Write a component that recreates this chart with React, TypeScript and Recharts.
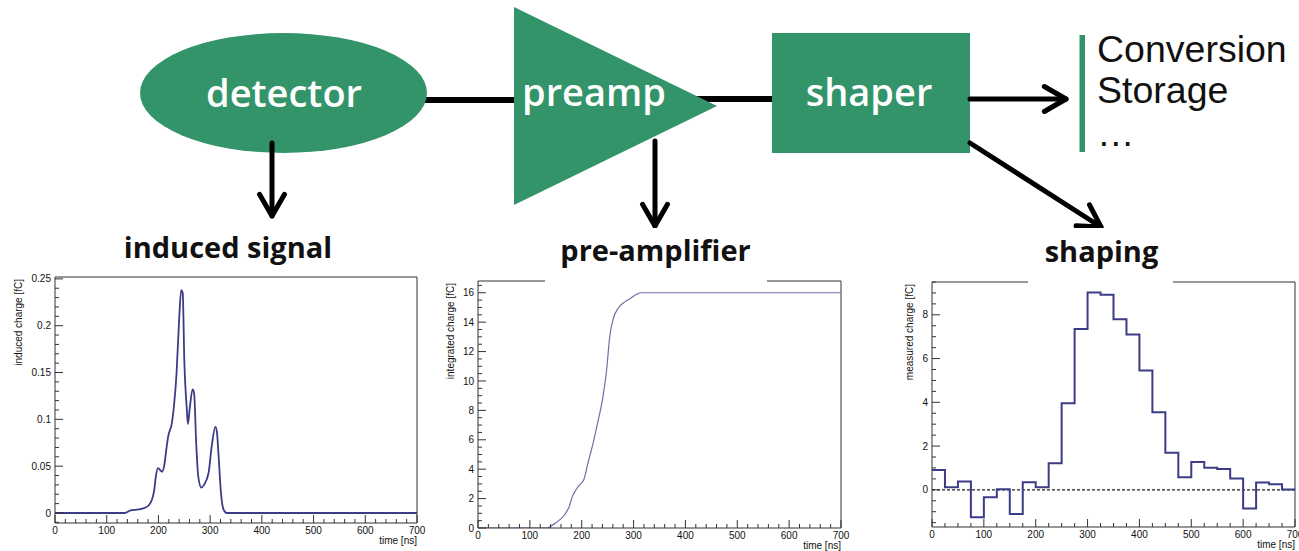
import React from "react";
import { LineChart, Line, XAxis, YAxis, ReferenceLine } from "recharts";

const GREEN = "#33946a";
const INK = "#111";
const AXIS = "#333";
const CHART_FONT = "'Liberation Sans', Arial, Helvetica, sans-serif";
const BLOCK_FONT = "'Open Sans', 'Noto Sans', sans-serif";

// induced current on the electrode
const inducedTime = [0, 135, 145, 158, 171, 181, 187, 192, 195, 199, 203, 207, 211, 216, 219, 226, 230, 235, 240, 244, 247, 250, 255, 257, 261, 266, 269, 273, 277, 283, 288, 297, 303, 310, 313, 316, 321, 326, 332, 700];
const inducedCharge = [0, 0, 0.0025, 0.0036, 0.005, 0.008, 0.0135, 0.025, 0.039, 0.048, 0.046, 0.044, 0.05, 0.071, 0.082, 0.096, 0.114, 0.149, 0.206, 0.238, 0.235, 0.164, 0.11, 0.095, 0.114, 0.132, 0.128, 0.075, 0.039, 0.027, 0.03, 0.043, 0.071, 0.092, 0.087, 0.064, 0.021, 0.0036, 0, 0];
const inducedTicksY = [0, 0.05, 0.1, 0.15, 0.2, 0.25];

// charge integrated by the preamp
const integratedTime = [0, 132, 145, 158, 167, 176, 182, 189, 196, 204, 212, 222, 232, 241, 248, 254, 261, 270, 283, 293, 306, 315, 700];
const integratedCharge = [0, 0, 0.23, 0.57, 0.9, 1.47, 2.15, 2.6, 2.94, 3.28, 4.41, 5.77, 7.35, 8.94, 10.75, 13.0, 14.25, 14.93, 15.38, 15.6, 15.9, 16.0, 16.0];
const integratedTicksY = [0, 2, 4, 6, 8, 10, 12, 14, 16];

// shaper output, sampled in 25 ns bins
const shapedBinWidth = 25;
const shapedCharge = [0.91, 0.12, 0.38, -1.25, -0.34, 0.03, -1.11, 0.35, 0.12, 1.22, 3.96, 7.35, 9.02, 8.92, 7.8, 7.1, 5.46, 3.55, 1.69, 0.58, 1.27, 1.01, 0.95, 0.52, -0.85, 0.34, 0.26, 0.02];
const shapedTicksY = [0, 2, 4, 6, 8];

const timeTicks = [0, 100, 200, 300, 400, 500, 600, 700];

type Pt = { t: number; q: number };

const inducedData: Pt[] = inducedTime.map((t, i) => ({ t, q: inducedCharge[i] }));
const integratedData: Pt[] = integratedTime.map((t, i) => ({ t, q: integratedCharge[i] }));
const shapedData: Pt[] = [
  ...shapedCharge.map((q, i) => ({ t: i * shapedBinWidth, q })),
  { t: shapedCharge.length * shapedBinWidth, q: shapedCharge[shapedCharge.length - 1] },
];

function withMinor(step: number, lo: number, hi: number) {
  const out: number[] = [];
  for (let k = Math.ceil(lo / step - 1e-9); k * step <= hi + 1e-9; k++) out.push(+(k * step).toFixed(6));
  return out;
}

const isMajor = (major: number[], v: number) => major.some((m) => Math.abs(m - v) < 1e-7);

function makeYTick(major: number[]) {
  return (p: any) => {
    const v = p.payload.value;
    const big = isMajor(major, v);
    return (
      <g>
        <line x1={p.x} y1={p.y} x2={p.x + (big ? 8 : 4)} y2={p.y} stroke={AXIS} />
        {big && (
          <text x={p.x - 4} y={p.y} dy="0.36em" textAnchor="end" fontSize={10} fill={INK} fontFamily={CHART_FONT}>
            {String(+v.toFixed(3))}
          </text>
        )}
      </g>
    );
  };
}

function makeXTick(major: number[]) {
  return (p: any) => {
    const v = p.payload.value;
    const big = isMajor(major, v);
    return (
      <g>
        <line x1={p.x} y1={p.y} x2={p.x} y2={p.y - (big ? 8 : 4)} stroke={AXIS} />
        {big && (
          <text x={p.x} y={p.y + 11} textAnchor="middle" fontSize={10} fill={INK} fontFamily={CHART_FONT}>
            {v}
          </text>
        )}
      </g>
    );
  };
}

function XTitle({ viewBox }: any) {
  if (!viewBox) return null;
  return (
    <text x={viewBox.x + viewBox.width} y={viewBox.y + 21} textAnchor="end" fontSize={10} fill={INK} fontFamily={CHART_FONT}>
      time [ns]
    </text>
  );
}

function YTitle({ viewBox, text, ax }: any) {
  if (!viewBox) return null;
  const ay = viewBox.y + 2;
  return (
    <text x={ax} y={ay} transform={`rotate(-90 ${ax} ${ay})`} textAnchor="end" fontSize={10} fill={INK} fontFamily={CHART_FONT}>
      {text}
    </text>
  );
}

type PanelProps = {
  left: number;
  top: number;
  width: number;
  height: number;
  margin: { top: number; right: number; bottom: number; left: number };
  data: Pt[];
  yDomain: [number, number];
  yMajor: number[];
  yMinorStep: number;
  xMinorStep: number;
  yTitle: string;
  yTitleX: number;
  lineType: "monotone" | "stepAfter";
  stroke: string;
  strokeWidth: number;
  zeroLine?: boolean;
};

function Panel(p: PanelProps) {
  const yTicks = withMinor(p.yMinorStep, p.yDomain[0], p.yDomain[1]);
  const xTicks = withMinor(p.xMinorStep, 0, 700);
  return (
    <div style={{ position: "absolute", left: p.left, top: p.top }}>
      <LineChart width={p.width} height={p.height} data={p.data} margin={p.margin}>
        <XAxis
          type="number"
          dataKey="t"
          domain={[0, 700]}
          ticks={xTicks}
          interval={0}
          tickSize={0}
          tickMargin={0}
          tick={makeXTick(timeTicks)}
          axisLine={{ stroke: AXIS }}
          height={22}
          allowDataOverflow
          label={<XTitle />}
        />
        <YAxis
          type="number"
          domain={p.yDomain}
          ticks={yTicks}
          interval={0}
          tickSize={0}
          tickMargin={0}
          tick={makeYTick(p.yMajor)}
          axisLine={{ stroke: AXIS }}
          width={40}
          allowDataOverflow
          label={<YTitle text={p.yTitle} ax={p.yTitleX} />}
        />
        <ReferenceLine y={p.yDomain[1]} stroke={AXIS} />
        <ReferenceLine x={700} stroke={AXIS} />
        {p.zeroLine && <ReferenceLine y={0} stroke="#222" strokeWidth={1.2} strokeDasharray="3 2" />}
        <Line
          dataKey="q"
          type={p.lineType}
          stroke={p.stroke}
          strokeWidth={p.strokeWidth}
          dot={false}
          activeDot={false}
          isAnimationActive={false}
        />
      </LineChart>
    </div>
  );
}

function Arrow({ x1, y1, x2, y2 }: { x1: number; y1: number; x2: number; y2: number }) {
  const a = Math.atan2(y2 - y1, x2 - x1);
  const L = 25;
  const s = Math.PI / 6;
  const p1 = `${x2 - L * Math.cos(a - s)},${y2 - L * Math.sin(a - s)}`;
  const p2 = `${x2 - L * Math.cos(a + s)},${y2 - L * Math.sin(a + s)}`;
  return (
    <g stroke="#000" strokeWidth={5} fill="none" strokeLinecap="round" strokeLinejoin="round">
      <line x1={x1} y1={y1} x2={x2} y2={y2} />
      <polyline points={`${p1} ${x2},${y2} ${p2}`} />
    </g>
  );
}

function Diagram() {
  const block = { fill: "#fff", fontFamily: BLOCK_FONT, fontWeight: 600, fontSize: 38 } as const;
  const caption = { fill: INK, fontFamily: BLOCK_FONT, fontWeight: 700, fontSize: 29, textAnchor: "middle" } as const;
  const list = { fill: INK, fontFamily: CHART_FONT, fontSize: 37.5 } as const;
  return (
    <svg width={1299} height={551} style={{ position: "absolute", left: 0, top: 0, pointerEvents: "none" }}>
      {/* signal chain */}
      <line x1={420} y1={100} x2={520} y2={100} stroke="#000" strokeWidth={6} />
      <line x1={695} y1={99} x2={775} y2={99} stroke="#000" strokeWidth={6} />
      <ellipse cx={283.5} cy={93} rx={143.5} ry={60} fill={GREEN} />
      <polygon points="514,7 514,205 717,106" fill={GREEN} />
      <rect x={772} y={33} width={198} height={120} fill={GREEN} />
      <text x={284} y={107} textAnchor="middle" {...block}>detector</text>
      <text x={522} y={106} {...block}>preamp</text>
      <text x={869} y={106} textAnchor="middle" {...block}>shaper</text>

      <Arrow x1={970} y1={99} x2={1066} y2={99} />
      <Arrow x1={272} y1={143} x2={272} y2={216} />
      <Arrow x1={655} y1={141} x2={655} y2={226} />
      <Arrow x1={970} y1={143} x2={1101} y2={227} />

      <rect x={1079.5} y={35} width={5.5} height={117} fill={GREEN} />
      <text x={1097} y={62} {...list}>Conversion</text>
      <text x={1097} y={103} {...list}>Storage</text>
      <text x={1097} y={146} {...list}>…</text>

      {/* plot captions */}
      <text x={228} y={258} {...caption}>induced signal</text>
      <rect x={545} y={228} width={222} height={58} fill="#fff" />
      <text x={655.5} y={261} {...caption}>pre-amplifier</text>
      <rect x={1028} y={228} width={145} height={58} fill="#fff" />
      <text x={1101.5} y={262} {...caption}>shaping</text>
    </svg>
  );
}

export default function App() {
  return (
    <div style={{ position: "absolute", left: 0, top: 0, width: 1299, height: 551, background: "#fff", overflow: "hidden" }}>
      <Panel
        left={0}
        top={260}
        width={430}
        height={291}
        margin={{ top: 17, right: 13, bottom: 6, left: 15 }}
        data={inducedData}
        yDomain={[-0.0107, 0.252]}
        yMajor={inducedTicksY}
        yMinorStep={0.01}
        xMinorStep={20}
        yTitle="induced charge [fC]"
        yTitleX={22}
        lineType="monotone"
        stroke="#3c3c86"
        strokeWidth={1.8}
      />
      <Panel
        left={430}
        top={270}
        width={430}
        height={281}
        margin={{ top: 11, right: 19, bottom: 1, left: 8 }}
        data={integratedData}
        yDomain={[0, 16.8]}
        yMajor={integratedTicksY}
        yMinorStep={0.5}
        xMinorStep={20}
        yTitle="integrated charge [fC]"
        yTitleX={24}
        lineType="monotone"
        stroke="#6f6fa8"
        strokeWidth={1.2}
      />
      <Panel
        left={880}
        top={270}
        width={419}
        height={281}
        margin={{ top: 12, right: 4, bottom: 2, left: 12 }}
        data={shapedData}
        yDomain={[-1.7, 9.5]}
        yMajor={shapedTicksY}
        yMinorStep={0.5}
        xMinorStep={25}
        yTitle="measured charge [fC]"
        yTitleX={33}
        lineType="stepAfter"
        stroke="#3c3c86"
        strokeWidth={2}
        zeroLine
      />
      <Diagram />
    </div>
  );
}
